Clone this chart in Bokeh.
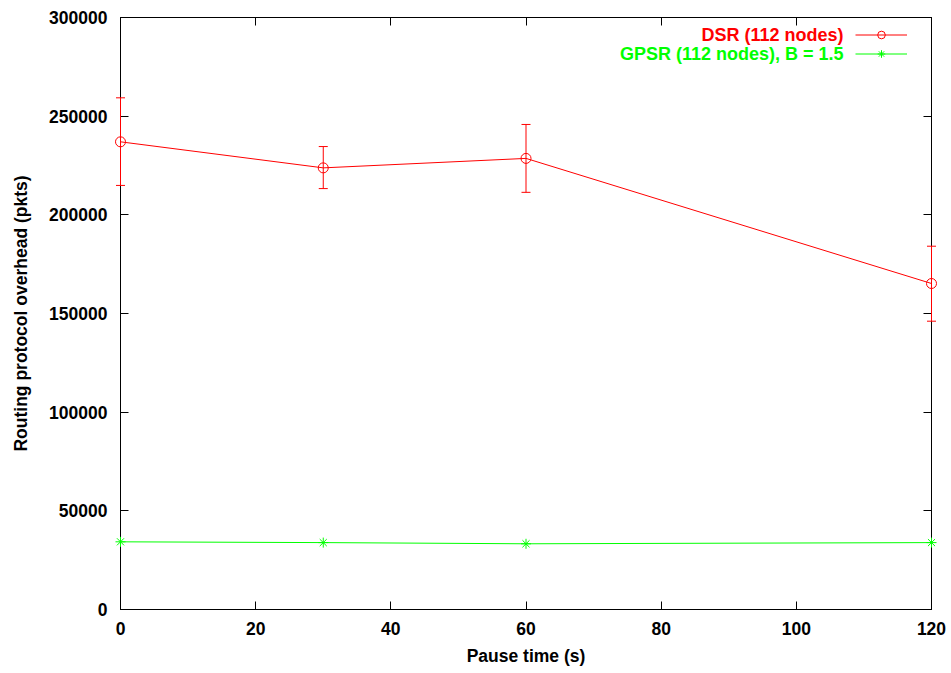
from bokeh.plotting import figure
from bokeh.models import (ColumnDataSource, LinearAxis, FixedTicker,
                          Range1d, Legend, LegendItem, Label, PrintfTickFormatter,
                          CustomJSTickFormatter)
from bokeh.embed import file_html
from bokeh.resources import INLINE

# ---- data ----
pause_time = [0, 30, 60, 120]
dsr_overhead = [237000, 223800, 228600, 165200]
dsr_upper = [259300, 234600, 245800, 184100]
dsr_lower = [214900, 213300, 211400, 146100]
gpsr_overhead = [34300, 33900, 33300, 33900]
x_ticks = [0, 20, 40, 60, 80, 100, 120]
y_ticks = [0, 50000, 100000, 150000, 200000, 250000, 300000]
dsr_label = "DSR (112 nodes)"
gpsr_label = "GPSR (112 nodes), B = 1.5"
x_title = "Pause time (s)"
y_title = "Routing protocol overhead (pkts)"

RED = "#ff0000"
GREEN = "#00ff00"
FONT = "Liberation Sans"

dsr_src = ColumnDataSource(dict(x=pause_time, y=dsr_overhead, up=dsr_upper, lo=dsr_lower))
gpsr_src = ColumnDataSource(dict(x=pause_time, y=gpsr_overhead))

p = figure(width=951, height=673, output_backend="svg", toolbar_location=None,
           x_range=Range1d(0, 120), y_range=Range1d(0, 300000),
           min_border_left=120, min_border_right=20, min_border_top=17, min_border_bottom=64)
p.xgrid.visible = False
p.ygrid.visible = False
p.outline_line_color = "black"
p.outline_line_width = 1
p.background_fill_color = "white"
p.border_fill_color = "white"

top_ax = LinearAxis()
right_ax = LinearAxis()
p.add_layout(top_ax, "above")
p.add_layout(right_ax, "right")

bottom_ax = p.below[0]
left_ax = p.left[0]


def style_axis(ax, ticks, labels=True):
    ax.ticker = FixedTicker(ticks=ticks)
    ax.major_tick_in = 8
    ax.major_tick_out = 0
    ax.minor_tick_line_color = None
    ax.axis_line_color = "black"
    ax.major_tick_line_color = "black"
    ax.major_label_text_font = FONT
    ax.major_label_text_font_style = "bold"
    ax.major_label_text_color = "black"
    ax.major_label_text_font_size = "17.5px"
    ax.axis_label_text_font = FONT
    ax.axis_label_text_font_style = "bold"
    ax.axis_label_text_font_size = "17.5px"
    ax.axis_label_text_color = "black"
    if not labels:
        ax.formatter = CustomJSTickFormatter(code="return ''")
        ax.major_label_standoff = 0
        ax.axis_label = None


style_axis(bottom_ax, x_ticks)
style_axis(left_ax, y_ticks)
style_axis(top_ax, x_ticks, labels=False)
style_axis(right_ax, y_ticks, labels=False)
left_ax.formatter = PrintfTickFormatter(format="%d")

bottom_ax.axis_label = x_title
left_ax.axis_label = y_title
bottom_ax.major_label_standoff = 12
bottom_ax.axis_label_standoff = 8
left_ax.major_label_standoff = 13
left_ax.axis_label_standoff = 15

# error bars (stems + caps), drawn above the axes like the reference
p.segment(x0="x", y0="lo", x1="x", y1="up", source=dsr_src,
          line_color=RED, line_width=1, level="overlay")
p.scatter("x", "up", source=dsr_src, marker="dash", size=9,
          line_color=RED, line_width=1, level="overlay")
p.scatter("x", "lo", source=dsr_src, marker="dash", size=9,
          line_color=RED, line_width=1, level="overlay")

dsr_line = p.line("x", "y", source=dsr_src, line_color=RED, line_width=1)
dsr_pts = p.scatter("x", "y", source=dsr_src, marker="circle", size=10,
                    line_color=RED, fill_color=None, line_width=1, level="overlay")
gpsr_line = p.line("x", "y", source=gpsr_src, line_color=GREEN, line_width=1)
gpsr_pts = p.scatter("x", "y", source=gpsr_src, marker="asterisk", size=10,
                     line_color=GREEN, line_width=1, level="overlay")

legend = Legend(items=[LegendItem(label=" ", renderers=[dsr_line, dsr_pts]),
                       LegendItem(label=" ", renderers=[gpsr_line, gpsr_pts])],
                location=(735, 546), glyph_width=52, glyph_height=19,
                label_width=0, label_height=19, label_standoff=0,
                label_text_font_size="8px", padding=0, margin=0, spacing=0,
                border_line_color=None, background_fill_alpha=0)
p.add_layout(legend, "center")

for txt, col, yy in [(dsr_label, RED, 575), (gpsr_label, GREEN, 556)]:
    p.add_layout(Label(x=723, y=yy, x_units="screen", y_units="screen", text=txt,
                       text_align="right", text_baseline="middle",
                       text_font=FONT, text_font_style="bold",
                       text_font_size="18px", text_color=col))

open("out.html", "w").write(file_html(p, INLINE))
